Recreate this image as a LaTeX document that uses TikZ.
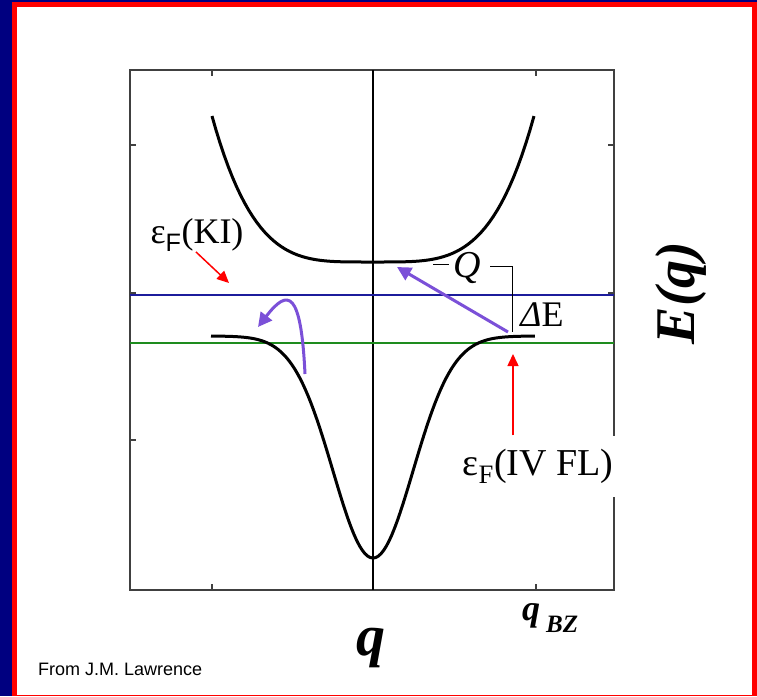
\documentclass[tikz,border=0pt]{standalone}
\usepackage{fontspec}
\setmainfont{Liberation Serif}
\setsansfont{Liberation Sans}
\usetikzlibrary{arrows.meta,positioning}
\definecolor{navy}{HTML}{000080}
\definecolor{bandblue}{HTML}{1C1C9C}
\definecolor{fermigreen}{HTML}{1E8C1E}
\definecolor{hop}{HTML}{7B50D8}
\tikzset{
 band/.style={line width=3pt},
 hoparr/.style={hop,line width=3pt,-{Triangle[length=14pt,width=14pt]}},
 redarr/.style={red,line width=1.5pt,-{Triangle[length=12pt,width=11pt]}},
 big/.style={font=\fontsize{36}{40}\selectfont},
 frame/.style={black!75,line width=1.2pt}
}

\begin{document}
\begin{tikzpicture}[x=1pt,y=-1pt]
\useasboundingbox (0,0) rectangle (757,696);
\fill[navy] (0,0) rectangle (757,696);
\fill[red] (12,2) rectangle (757,696);
\fill[white] (17,7) rectangle (752,695);
% plot box and ticks
\draw[frame] (130,70) rectangle (614,590);
\foreach \x in {212,536}{\draw[frame] (\x,70)--(\x,76) (\x,590)--(\x,584);}
\foreach \y in {145,293,440}{\draw[frame] (130,\y)--(136,\y) (614,\y)--(608,\y);}
\draw[line width=1.2pt] (373,70)--(373,590);
\draw[bandblue,line width=1.2pt] (130,295)--(614,295);
\draw[fermigreen,line width=1.2pt] (130,343)--(614,343);
% bands
\draw[band] plot[domain=-1:1,samples=80] ({373+161*\x},{262-146*\x*\x*\x*\x});
\draw[band] plot[domain=-1:1,samples=121] ({373+162*\x},{336+222*exp(-\x*\x/0.1225)});
% gap
\node[big,font=\fontsize{38}{40}\selectfont\itshape] (Q) at (467,268) {Q};
\draw[line width=0.8pt] (433,264)--(449,264) (490,266)--(512,266)--(512,332);
\node[big] (dE) at (542,315) {\textit{Δ}E};
\coordinate (vb) at (508,332); \coordinate (cb) at (397,267);
\draw[hoparr] (vb)--(cb);
\coordinate (kstart) at (305,374); \coordinate (kend) at (258,327);
\draw[hoparr] (kstart) .. controls (301,290) and (288,288) .. (kend);
% Fermi levels
\node[big,inner sep=0pt,anchor=base] (ki) at (197,243) {ε\textsubscript{\sffamily F}(KI)};
\coordinate (kigap) at (229,283);
\draw[redarr] ([xshift=-1pt]ki.south) -- (kigap);
\node[big,font=\fontsize{38}{40}\selectfont,fill=white,inner xsep=3pt,inner ysep=13pt,anchor=base] (ivfl) at (538,475) {ε\textsubscript{F}(IV FL)};
\coordinate (flgap) at (513,354);
\draw[redarr] (ivfl.north -| flgap) -- (flgap);
% axis labels
\node[font=\fontsize{56}{60}\selectfont\bfseries\itshape,rotate=90] (Eq) at (681,293) {E(q)};
\node[font=\fontsize{58}{60}\selectfont\bfseries\itshape,anchor=base] (qax) at (371,655) {q};
\node[font=\fontsize{36}{40}\selectfont\bfseries\itshape,anchor=base west,inner sep=0pt] (qbz) at (522,620) {q\kern6pt\raisebox{-12pt}{\fontsize{25}{27}\selectfont BZ}};
\node[font=\sffamily\fontsize{18}{20}\selectfont,anchor=base west,inner sep=0pt] (src) at (38,675) {From J.M. Lawrence};
\end{tikzpicture}
\end{document}
